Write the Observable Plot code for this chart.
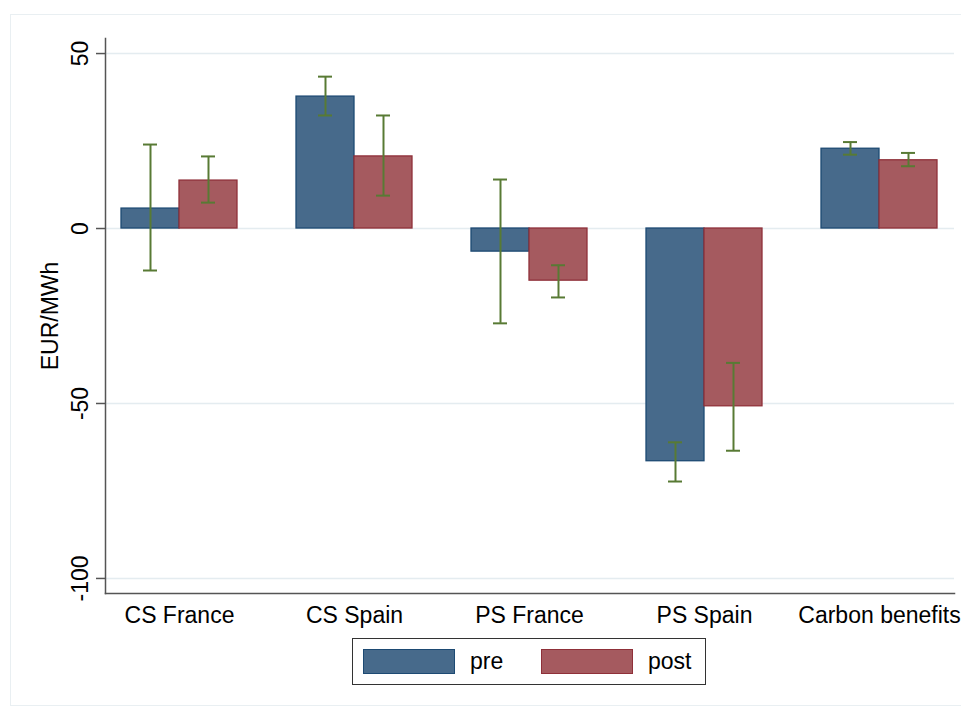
<!DOCTYPE html>
<html>
<head>
<meta charset="utf-8">
<script src="https://cdn.jsdelivr.net/npm/d3@7"></script>
<script src="https://cdn.jsdelivr.net/npm/@observablehq/plot@0.6"></script>
<style>
  html, body { margin: 0; padding: 0; background: #fff; }
  #wrap { position: relative; width: 961px; height: 709px; overflow: hidden; font-family: "Liberation Sans", Arial, sans-serif; }
  #outer { position: absolute; left: 10px; top: 14px; width: 960px; height: 692px; border: 1.5px solid #e9eff2; box-sizing: border-box; }
  #chart { position: absolute; left: 0; top: 0; }
  #legend { position: absolute; left: 352px; top: 638px; width: 354px; height: 47px; border: 1.5px solid #333; box-sizing: border-box; background: #fff; }
  .sw { position: absolute; top: 10px; width: 92px; height: 25px; box-sizing: border-box; border: 1.3px solid; }
  .lt { position: absolute; top: 8px; font-size: 23px; color: #000; line-height: 28px; }
</style>
</head>
<body>
<div id="wrap">
  <div id="outer"></div>
  <div id="chart"></div>
  <div id="legend"></div>
</div>
<script>
const categories = ["CS France", "CS Spain", "PS France", "PS Spain", "Carbon benefits"];
const seriesNames = ["pre", "post"];
const preValues = [5.7, 37.7, -6.6, -66.5, 22.8];
const preLow    = [-12.0, 32.3, -27.1, -72.3, 21.1];
const preHigh   = [24.0, 43.4, 14.0, -61.1, 24.7];
const postValues = [13.7, 20.6, -14.9, -50.8, 19.5];
const postLow    = [7.4, 9.4, -19.7, -63.5, 17.8];
const postHigh   = [20.6, 32.3, -10.5, -38.4, 21.6];
const yTicks = [50, 0, -50, -100];
const yLabel = "EUR/MWh";

const preFill = "#476a8b", preStroke = "#1d4a73";
const postFill = "#a55a5f", postStroke = "#8f3039";
const ciColor = "#587a34";

const pre = categories.map((c, i) => ({cat: c, v: preValues[i], lo: preLow[i], hi: preHigh[i]}));
const post = categories.map((c, i) => ({cat: c, v: postValues[i], lo: postLow[i], hi: postHigh[i]}));

const half = 58; // half of band width
const fs = 23;

const plot = Plot.plot({
  width: 961,
  height: 640,
  marginLeft: 105,
  marginRight: 7,
  marginTop: 38,
  marginBottom: 47,
  style: {fontFamily: "'Liberation Sans', Arial, sans-serif", fontSize: fs + "px", background: "transparent", color: "#000"},
  x: {domain: categories, paddingInner: 0.337, paddingOuter: 0.094, label: null},
  y: {domain: [-104.3, 54.3], label: null},
  marks: [
    Plot.gridY(yTicks, {stroke: "#e4ecf0", strokeOpacity: 1, strokeWidth: 1.5}),
    Plot.barY(pre, {x: "cat", y: "v", fill: preFill, stroke: preStroke, strokeWidth: 1.3, insetLeft: 0, insetRight: half}),
    Plot.barY(post, {x: "cat", y: "v", fill: postFill, stroke: postStroke, strokeWidth: 1.3, insetLeft: half, insetRight: 0}),
    Plot.ruleX(pre, {x: "cat", y1: "lo", y2: "hi", stroke: ciColor, strokeWidth: 2, dx: -29}),
    Plot.ruleX(post, {x: "cat", y1: "lo", y2: "hi", stroke: ciColor, strokeWidth: 2, dx: 29}),
    Plot.tickY(pre, {x: "cat", y: "lo", stroke: ciColor, strokeWidth: 2, dx: -29, insetLeft: 51, insetRight: 51}),
    Plot.tickY(pre, {x: "cat", y: "hi", stroke: ciColor, strokeWidth: 2, dx: -29, insetLeft: 51, insetRight: 51}),
    Plot.tickY(post, {x: "cat", y: "lo", stroke: ciColor, strokeWidth: 2, dx: 29, insetLeft: 51, insetRight: 51}),
    Plot.tickY(post, {x: "cat", y: "hi", stroke: ciColor, strokeWidth: 2, dx: 29, insetLeft: 51, insetRight: 51}),
    Plot.axisY(yTicks, {tickSize: 9, tickRotate: -90, tickPadding: 9, fontSize: fs, stroke: "#555", strokeWidth: 1.5, label: null, tickFormat: d => String(d)}),
    Plot.axisX({tickSize: 0, tickPadding: 13, fontSize: fs, label: null}),
    Plot.text([yLabel], {frameAnchor: "left", textAnchor: "middle", rotate: -90, dx: -55, fontSize: fs, fill: "#000"}),
    Plot.frame({anchor: "left", stroke: "#555", strokeWidth: 1.5}),
    Plot.frame({anchor: "bottom", stroke: "#555", strokeWidth: 1.5})
  ]
});
document.getElementById("chart").appendChild(plot);

const legend = document.getElementById("legend");
const items = [
  {name: seriesNames[0], fill: preFill, stroke: preStroke, sx: 10, tx: 117},
  {name: seriesNames[1], fill: postFill, stroke: postStroke, sx: 188, tx: 295}
];
for (const it of items) {
  const s = document.createElement("div");
  s.className = "sw";
  s.style.left = it.sx + "px";
  s.style.background = it.fill;
  s.style.borderColor = it.stroke;
  legend.appendChild(s);
  const t = document.createElement("div");
  t.className = "lt";
  t.style.left = it.tx + "px";
  t.textContent = it.name;
  legend.appendChild(t);
}
</script>
</body>
</html>
